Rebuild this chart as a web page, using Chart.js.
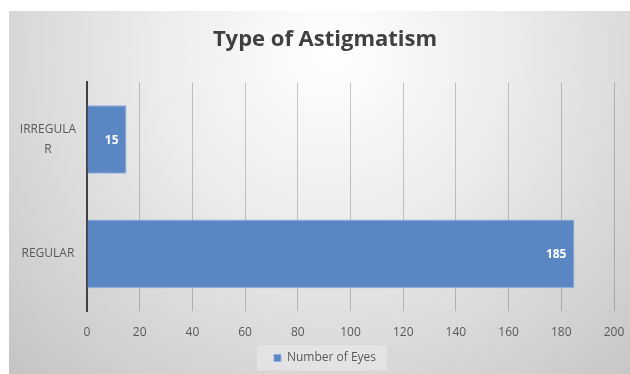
<!DOCTYPE html>
<html>
<head>
<meta charset="utf-8">
<script src="https://cdn.jsdelivr.net/npm/chart.js@4"></script>
<style>
  html, body { margin: 0; padding: 0; background: #fff; }
  #wrap {
    position: absolute; left: 9px; top: 11px; width: 621px; height: 363px;
    background: radial-gradient(ellipse farthest-corner at 52% 12%, #ffffff 0%, #ebebeb 40%, #c4c4c4 100%);
  }
</style>
</head>
<body>
<div id="wrap"><canvas id="astigChart" width="621" height="363"></canvas></div>
<script>
const categories = [['IRREGULA', 'R'], 'REGULAR'];
const eyeCounts = [15, 185];
const seriesName = 'Number of Eyes';
const xTicks = [0, 20, 40, 60, 80, 100, 120, 140, 160, 180, 200];

const ctx = document.getElementById('astigChart').getContext('2d');

// value labels, white, right-aligned just inside the end of each bar
const barLabels = {
    id: 'barLabels',
    afterDatasetsDraw(chart) {
        const meta = chart.getDatasetMeta(0);
        const c = chart.ctx;
        c.save();
        c.font = 'bold 12px "Open Sans"';
        c.fillStyle = '#ffffff';
        c.textAlign = 'right';
        c.textBaseline = 'middle';
        meta.data.forEach((bar, i) => {
            c.fillText(String(eyeCounts[i]), bar.x - 8, bar.y + 1);
        });
        c.restore();
    }
};

// light panel behind the legend entry
const legendPanel = {
    id: 'legendPanel',
    beforeDraw(chart) {
        const boxes = chart.legend && chart.legend.legendHitBoxes;
        if (!boxes || !boxes.length) return;
        const hb = boxes[0];
        const c = chart.ctx;
        const cy = hb.top + hb.height / 2;
        c.save();
        c.fillStyle = 'rgba(255,255,255,0.28)';
        c.fillRect(hb.left - 17, cy - 12.5, hb.width + 28, 25);
        c.restore();
    }
};

// let the category labels use the left margin too (labels are clipped to the axis box)
const widenLabelArea = {
    id: 'widenLabelArea',
    afterLayout(chart) {
        chart.scales.y.left = 0;
    }
};

const chart = new Chart(ctx, {
    type: 'bar',
    data: {
        labels: categories,
        datasets: [{
            label: seriesName,
            data: eyeCounts,
            backgroundColor: '#5a86c4',
            borderColor: '#8eaee0',
            borderWidth: 1,
            barPercentage: 0.6,
            categoryPercentage: 1.0
        }]
    },
    options: {
        indexAxis: 'y',
        responsive: false,
        animation: false,
        layout: { padding: { left: 27, right: 16, top: 0, bottom: 0 } },
        plugins: {
            title: {
                display: true,
                text: 'Type of Astigmatism',
                color: '#404040',
                font: { family: 'Open Sans', size: 22, weight: 'bold' },
                padding: { top: 16, bottom: 29 }
            },
            legend: {
                position: 'bottom',
                labels: {
                    color: '#595959',
                    font: { family: 'Open Sans', size: 12 },
                    boxWidth: 7,
                    boxHeight: 7,
                    padding: 10
                }
            },
            tooltip: { enabled: false }
        },
        scales: {
            x: {
                min: 0,
                max: 200,
                afterBuildTicks(scale) {
                    scale.ticks = xTicks.map(v => ({ value: v }));
                },
                afterFit(scale) {
                    scale.height = 31;
                    scale.paddingLeft = 0;
                    scale.paddingRight = 0;
                },
                grid: { color: 'rgba(0,0,0,0.2)', drawTicks: false },
                border: { display: false },
                ticks: {
                    color: '#595959',
                    font: { family: 'Open Sans', size: 12 },
                    padding: 14
                }
            },
            y: {
                afterFit(scale) { scale.width = 51; },
                grid: { display: false },
                border: { display: true, color: '#404040', width: 2 },
                ticks: {
                    color: '#595959',
                    font: { family: 'Open Sans', size: 12, lineHeight: 1.6 },
                    crossAlign: 'center',
                    padding: 3
                }
            }
        }
    },
    plugins: [widenLabelArea, legendPanel, barLabels]
});
</script>
</body>
</html>
